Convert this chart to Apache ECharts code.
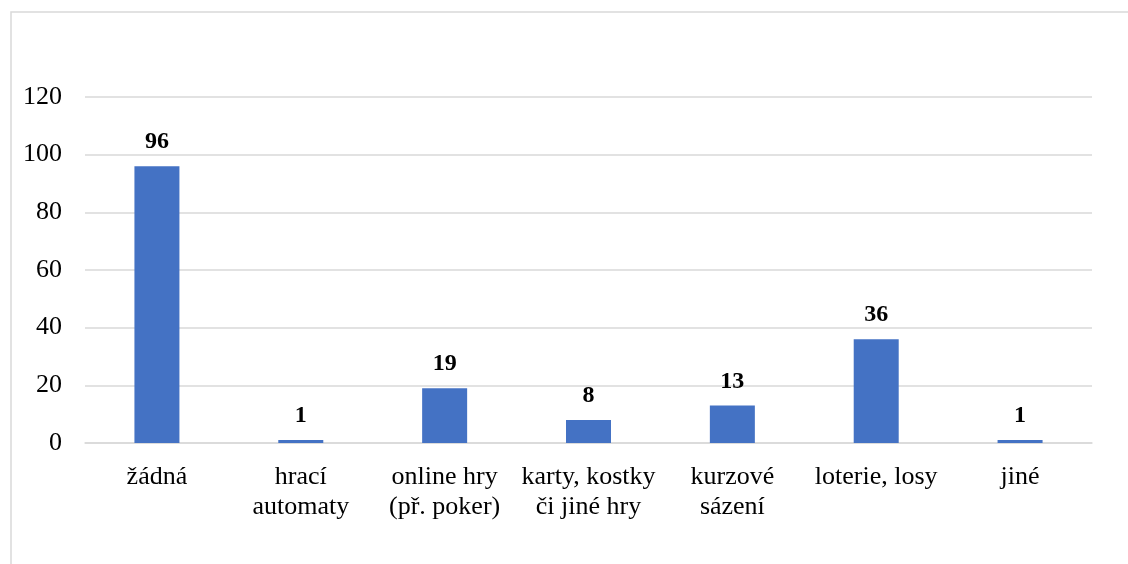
<!DOCTYPE html>
<html>
<head>
<meta charset="utf-8">
<script src="https://cdn.jsdelivr.net/npm/echarts@6/dist/echarts.min.js"></script>
<style>
  html, body { margin: 0; padding: 0; background: #fff; }
  #chart { width: 1128px; height: 564px; }
</style>
</head>
<body>
<div id="chart"></div>
<script>
// data
var categories = ["žádná", "hrací\nautomaty", "online hry\n(př. poker)", "karty, kostky\nči jiné hry", "kurzové\nsázení", "loterie, losy", "jiné"];
var counts = [96, 1, 19, 8, 13, 36, 1];
var yTicks = { min: 0, max: 120, interval: 20 };

var chart = echarts.init(document.getElementById("chart"));
var option = {
    backgroundColor: "#fff",
    animation: false,
    textStyle: { fontFamily: "Liberation Serif" },
    graphic: [
        {
            type: "rect",
            shape: { x: 11, y: 12, width: 1300, height: 700 },
            style: { fill: "none", stroke: "#d9d9d9", lineWidth: 1.5 },
            silent: true
        }
    ],
    grid: {
        left: 85,
        right: 36,
        top: 97,
        bottom: 121
    },
    xAxis: {
        type: "category",
        data: categories,
        axisLine: { lineStyle: { color: "#d9d9d9", width: 1.5 } },
        axisTick: { show: false },
        axisLabel: {
            interval: 0,
            color: "#000",
            fontSize: 26,
            lineHeight: 30,
            margin: 19,
            fontFamily: "Liberation Serif"
        }
    },
    yAxis: {
        type: "value",
        min: yTicks.min,
        max: yTicks.max,
        interval: yTicks.interval,
        axisLine: { show: false },
        axisTick: { show: false },
        splitLine: { lineStyle: { color: "#d9d9d9", width: 1.5 } },
        axisLabel: {
            color: "#000",
            fontSize: 26,
            margin: 23,
            fontFamily: "Liberation Serif"
        }
    },
    series: [
        {
            name: "počet",
            type: "bar",
            data: counts,
            barWidth: 45,
            itemStyle: { color: "#4472C4" },
            label: {
                show: true,
                position: "top",
                distance: 12,
                color: "#000",
                fontSize: 24,
                fontWeight: "bold",
                fontFamily: "Liberation Serif"
            }
        }
    ]
};
chart.setOption(option);

window.onresize = function(){
    chart.resize();
};
</script>
</body>
</html>
